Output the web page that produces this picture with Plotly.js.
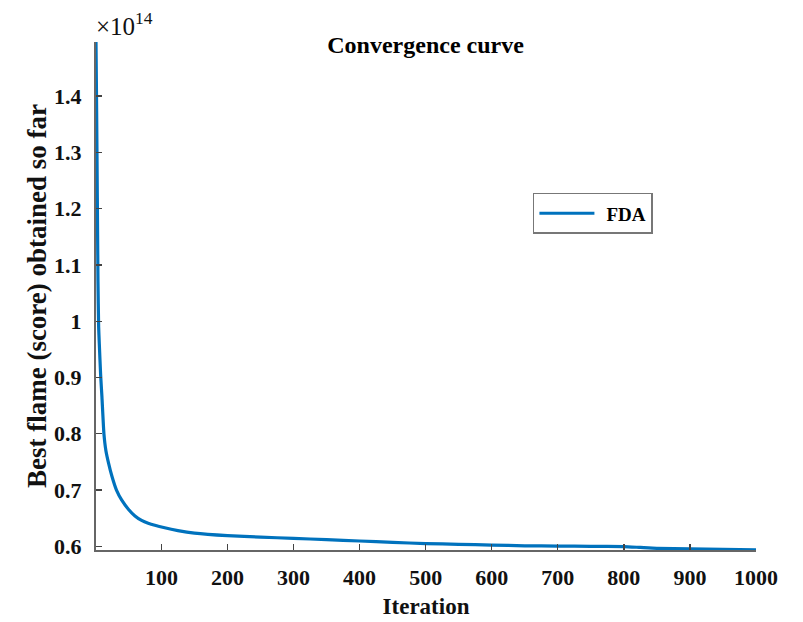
<!DOCTYPE html>
<html>
<head>
<meta charset="utf-8">
<script src="https://cdn.plot.ly/plotly-3.0.1.min.js"></script>
<style>body{margin:0;padding:0;background:#fff;}#chart{width:803px;height:622px;}</style>
</head>
<body>
<div id="chart"></div>
<script>
// Iteration and best score (in units of 1e14)
var iterations = [1, 2, 3, 4, 5, 6, 8, 10, 13, 16, 20, 25, 32, 40, 50, 60, 70, 80, 105, 125, 150, 200, 250, 300, 350, 400, 450, 500, 550, 600, 650, 700, 750, 800, 825, 850, 900, 950, 1000];
var bestScore = [1.496, 1.37, 1.22, 1.07, 0.99, 0.96, 0.905, 0.865, 0.80, 0.77, 0.748, 0.725, 0.70, 0.682, 0.666, 0.654, 0.646, 0.641, 0.633, 0.628, 0.6235, 0.619, 0.6165, 0.614, 0.612, 0.6095, 0.607, 0.605, 0.6035, 0.6023, 0.601, 0.6005, 0.600, 0.5995, 0.598, 0.5965, 0.5955, 0.5945, 0.5937];
var xTicks = [100, 200, 300, 400, 500, 600, 700, 800, 900, 1000];
var yTicks = [0.6, 0.7, 0.8, 0.9, 1.0, 1.1, 1.2, 1.3, 1.4];
var yTickText = ['0.6', '0.7', '0.8', '0.9', '1', '1.1', '1.2', '1.3', '1.4'];
var seriesName = 'FDA';

var serif = 'Liberation Serif, Times New Roman, serif';
var trace = {
  x: iterations, y: bestScore, type: 'scatter', mode: 'lines', name: seriesName,
  line: {color: '#0072BD', width: 3.2, shape: 'spline', smoothing: 0.5}
};
var layout = {
  width: 803, height: 622,
  margin: {l: 96, r: 47, t: 42, b: 72},
  paper_bgcolor: '#fff', plot_bgcolor: '#fff',
  title: {text: '<b>Convergence curve</b>', font: {family: serif, size: 24, color: '#000'}, x: 0.53, xanchor: 'center', y: 0.928, yanchor: 'middle'},
  showlegend: true,
  legend: {x: 0.662, y: 0.703, xanchor: 'left', yanchor: 'top', bordercolor: '#777', borderwidth: 1.5, bgcolor: '#fff',
           itemwidth: 62, font: {family: serif, size: 19, color: '#000', weight: 'bold'}},
  xaxis: {
    range: [1, 1000], tickvals: xTicks, ticks: 'inside', ticklen: 6, tickwidth: 1.3, tickcolor: '#444',
    showline: true, linecolor: '#666', linewidth: 2, showgrid: false, zeroline: false, ticklabelstandoff: 7,
    tickfont: {family: serif, size: 22, color: '#111', weight: 'bold'},
    title: {text: '<b>Iteration</b>', font: {family: serif, size: 23, color: '#111'}, standoff: 8}
  },
  yaxis: {
    range: [0.5935, 1.496], tickvals: yTicks, ticktext: yTickText, ticks: 'inside', ticklen: 6, tickwidth: 1.3, tickcolor: '#444',
    showline: true, linecolor: '#666', linewidth: 2, showgrid: false, zeroline: false, ticklabelstandoff: 8,
    tickfont: {family: serif, size: 22, color: '#111', weight: 'bold'},
    title: {text: '<b>Best flame (score) obtained so far</b>', font: {family: serif, size: 27, color: '#111'}, standoff: 0}
  },
  annotations: [{
    xref: 'paper', yref: 'paper', x: 0, y: 1, xanchor: 'left', yanchor: 'bottom', yshift: 0, xshift: -2, showarrow: false,
    text: '×10<sup>14</sup>', font: {family: serif, size: 25, color: '#111'}
  }]
};
Plotly.newPlot('chart', [trace], layout, {displayModeBar: false, staticPlot: true}).then(function (gd) {
  // lengthen the legend line sample to match the reference
  var paths = gd.querySelectorAll('.legend .legendlines path');
  paths.forEach(function (p) { p.setAttribute('d', 'M5,0h55'); });
});
</script>
</body>
</html>
